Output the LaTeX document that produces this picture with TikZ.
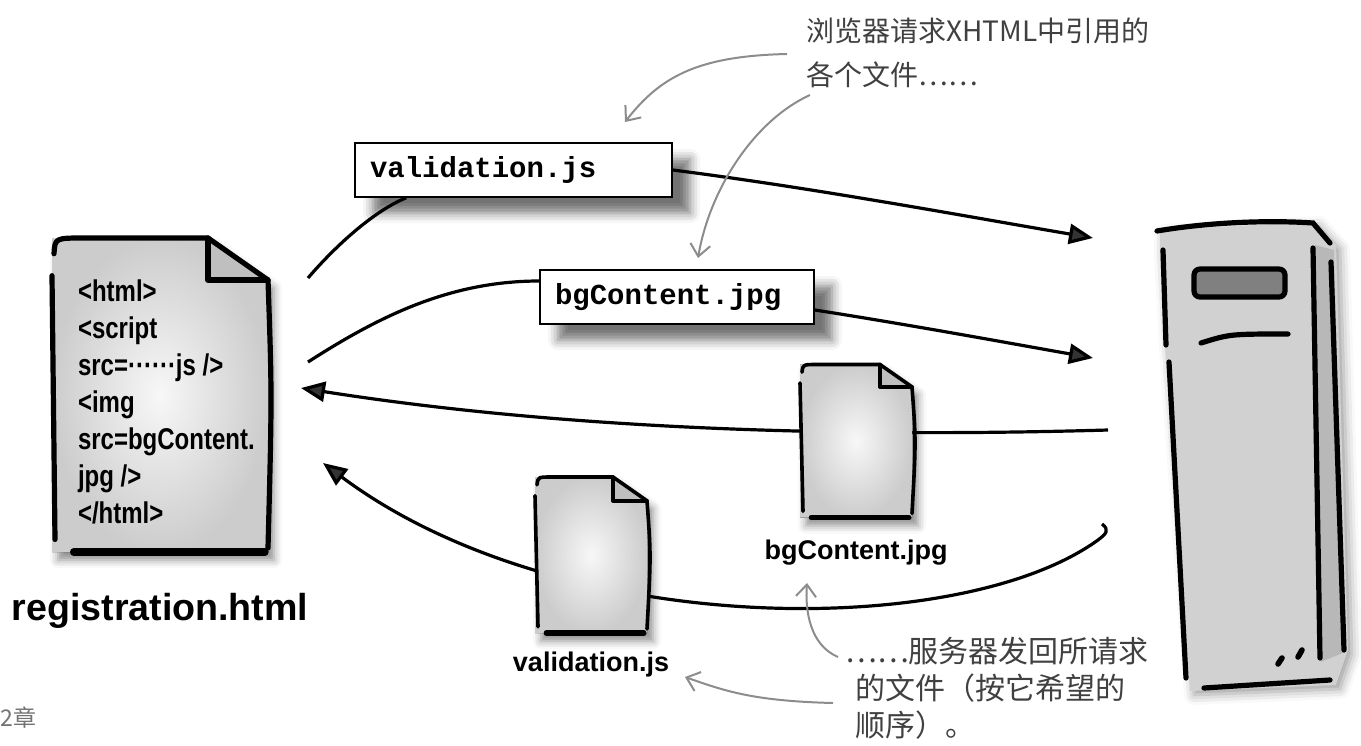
\documentclass[tikz,border=0pt]{standalone}
\usepackage{fontspec}
\setmainfont{Liberation Sans}
\newfontfamily\codefont{Liberation Mono}
\newfontfamily\handfont{Liberation Sans}[FakeStretch=0.8]
\newfontfamily\cjk{Noto Sans CJK SC}
\usetikzlibrary{arrows.meta, positioning, shadows.blur, backgrounds}

\tikzset{
    flow/.style={line width=1.6pt, -{Triangle[length=12pt,width=10pt]}},
    hop/.style={line width=1.6pt},
    remark/.style={draw=black!45, line width=1pt, -{Straight Barb[length=6pt,width=10pt]}},
    filebox/.style={draw, line width=0.8pt, fill=white, align=left, inner xsep=7.5pt, minimum height=27pt,
        font=\codefont\bfseries\fontsize{14.5}{17}\selectfont,
        blur shadow={shadow xshift=9pt, shadow yshift=-8pt, shadow blur radius=5pt, shadow opacity=55}},
    fname/.style={font=\bfseries\fontsize{13.5}{16}\selectfont, inner sep=0pt},
    scrawl/.style={font=\cjk\fontsize{14}{22}\selectfont, text=black!75, align=left, inner sep=0pt},
    % sheet of paper with a folded corner: width/height/fold/pen
    pics/paper/.style args={#1/#2/#3/#4}{code={
        \node[inner sep=0pt, minimum width=#1*0.5pt, minimum height=#2*0.5pt] (-sheet) {};
        \fill[inner color=black!3, outer color=black!20,
              blur shadow={shadow xshift=3pt, shadow yshift=-4pt, shadow blur radius=4pt, shadow opacity=45}]
            ({-#1/2},{-#2/2}) -- ({#1/2-#3},{-#2/2}) -- ({#1/2},{-#2/2+0.7*#3}) -- ({#1/2},{#2/2})
            -- ({-#1/2},{#2/2}) -- cycle;
        \fill[black!25] ({#1/2-#3},{-#2/2}) -- ({#1/2-#3},{-#2/2+0.7*#3}) -- ({#1/2},{-#2/2+0.7*#3}) -- cycle;
        \begin{scope}[line width=#4, line cap=round, line join=round]
            \draw ({-#1/2+2},{-#2/2+0.05*#2}) .. controls ({-#1/2+3},{-#2/2}) .. ({-#1/2+0.15*#1},{-#2/2})
                -- ({#1/2-#3},{-#2/2}) -- ({#1/2},{-#2/2+0.7*#3})
                .. controls ({#1/2+4},{0}) .. ({#1/2},{#2/2-4});
            \draw ({-#1/2},{-#2/2+0.12*#2}) -- ({-#1/2+3},{#2/2-0.04*#2});
            \draw[line width={1.4*#4}] ({-#1/2+0.1*#1},{#2/2}) -- ({#1/2-3},{#2/2});
            \draw ({#1/2-#3},{-#2/2}) -- ({#1/2-#3},{-#2/2+0.7*#3}) -- ({#1/2},{-#2/2+0.7*#3});
        \end{scope}
    }}
}

\begin{document}
\begin{tikzpicture}[x=0.5pt, y=-0.5pt]
    \useasboundingbox (0,0) rectangle (1361,745);

    % the page and what it asks for
    \pic (regdoc) at (160,395) {paper=216/314/60/2.6pt};
    \node[anchor=north west, inner sep=0pt, align=left,
          font=\handfont\bfseries\fontsize{15}{18.5}\selectfont] (markup)
        at ([xshift=13pt,yshift=-21pt]regdoc-sheet.north west)
        {<html>\\<script\\src=······js />\\<img\\src=bgContent.\\jpg />\\</html>};
    \node[fname, font=\bfseries\fontsize{18.8}{22}\selectfont, below=20pt of regdoc-sheet] (reglabel) {registration.html};

    \node[filebox, text width=143.5pt] (valbox) at (513.5,170) {validation.js};
    \node[filebox, text width=122pt] (bgbox) at (677,297) {bgContent.jpg};

    % files coming back
    \pic (bgdoc) at (856,441) {paper=112/153/32/1.8pt};
    \node[fname, below=11pt of bgdoc-sheet] (bglabel) {bgContent.jpg};
    \pic (vdoc) at (591,555) {paper=112/156/34/1.8pt};
    \node[fname, below=9pt of vdoc-sheet] (vlabel) {validation.js};

    % server
    \node[inner sep=0pt, minimum width=95pt, minimum height=232pt] (srv) at (1250,457) {};
    \fill[black!18, blur shadow={shadow xshift=2pt, shadow yshift=-2pt, shadow blur radius=5pt, shadow opacity=40}]
        (1160,230) -- (1315,222) -- (1336,245) -- (1348,650) -- (1336,685) -- (1190,691) -- (1166,360) -- (1160,250) -- cycle;
    \fill[black!28] (1315,245) -- (1334,250) -- (1345,652) -- (1321,662) -- cycle;
    \begin{scope}[line width=2.6pt, line cap=round]
        \draw (1157,231) .. controls (1210,222) and (1270,220) .. (1313,223) -- (1330,243);
        \draw (1163,250) -- (1166,345);
        \draw (1169,362) -- (1186,678);
        \draw (1204,688) -- (1330,680);
        \draw (1313,248) -- (1320,658);
        \draw (1331,262) -- (1344,650);
        \draw[fill=black!50, rounded corners=3pt] (1194,269) rectangle (1285,297);
        \draw (1201,343) .. controls (1230,334) .. (1288,334);
        \draw[line width=2.8pt] (1278,664) -- (1282,658) (1298,657) -- (1302,650);
    \end{scope}

    \coordinate (reqA) at (308,278);
    \coordinate (reqB) at (308,362);
    \coordinate (getA) at (1093,238);
    \coordinate (getB) at (1093,358);
    \coordinate (sendA) at (1108,430);
    \coordinate (sendB) at (1098,540);
    \coordinate (backA) at (301,388);
    \coordinate (backB) at (323,463);

    \begin{scope}[on background layer]
        \draw[hop] (reqA) .. controls +(30,-35) and +(-30,12) .. ([xshift=26pt]valbox.south west);
        \draw[flow] (valbox.east) .. controls +(140,18) and +(-140,-24) .. (getA);
        \draw[hop] (reqB) .. controls +(70,-45) and +(-90,0) .. ([yshift=8pt]bgbox.west);
        \draw[flow] ([yshift=-6.5pt]bgbox.east) .. controls +(90,14) and +(-90,-16) .. (getB);
        \draw[flow] (sendA) .. controls +(-208,6) and +(299,47) .. (backA);
        \draw[flow] (sendB) ++(4,-16) .. controls +(8,6) and +(8,-6) .. (sendB)
            .. controls +(-138,100) and +(237,177) .. (backB);
    \end{scope}

    % notes
    \node[scrawl, anchor=north west] (ask) at (806,17) {浏览器请求XHTML中引用的\\各个文件……};
    \node[scrawl, font=\cjk\fontsize{15}{18.5}\selectfont, anchor=north west] (reply) at (845,637)
        {……服务器发回所请求\\\hspace{5pt}的文件（按它希望的\\\hspace{5pt}顺序）。};
    \node[scrawl, font=\cjk\fontsize{11.5}{13}\selectfont, text=black!55, anchor=west] (chap) at (0,718) {2章};

    \coordinate (askA) at (787,54);
    \coordinate (askB) at (810,95);
    \coordinate (askAt) at (625,122);
    \coordinate (askBt) at (698,258);
    \coordinate (replyA) at (838,657);
    \coordinate (replyB) at (833,703);
    \coordinate (replyAt) at (807,583);
    \coordinate (replyBt) at (685,677);

    \draw[remark] (askA) .. controls +(-90,2) and +(35,-45) .. (askAt);
    \draw[remark] (askB) .. controls +(-55,25) and +(12,-70) .. (askBt);
    \draw[remark] (replyA) .. controls +(-28,-12) and +(-2,28) .. (replyAt);
    \draw[remark] (replyB) .. controls +(-80,-2) and +(40,14) .. (replyBt);
\end{tikzpicture}
\end{document}
